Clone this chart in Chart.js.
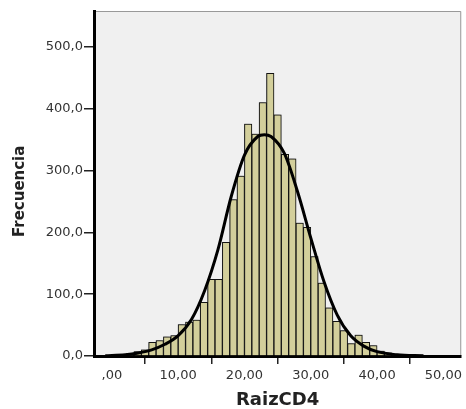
<!DOCTYPE html>
<html lang="es">
<head>
<meta charset="UTF-8">
<title>RaizCD4</title>
<script src="https://cdn.jsdelivr.net/npm/chart.js"></script>
<style>
  html, body { margin: 0; padding: 0; background: #fff; }
</style>
</head>
<body>
<canvas id="hist" width="466" height="409"></canvas>
<script>
// histograma de RaizCD4, intervalos de 10/9
const binWidth = 10 / 9;
const counts = [1, 2, 4, 7, 10, 22, 25, 31, 33, 51, 55, 58, 87, 124, 124, 184, 253, 291,
                375, 359, 410, 457, 390, 326, 319, 215, 208, 161, 118, 78, 56, 41, 20, 34,
                22, 17, 8, 5, 3, 2, 1, 1];
// curva normal, puntos
const curveX = [-1, 2, 4, 6, 8, 10, 12, 14, 16, 18, 20, 22, 23, 24,
                26, 28, 30, 32, 34, 36, 38, 40, 43, 47];
const curveY = [0.5, 2, 5, 10, 19, 33, 59, 106, 172, 258, 325, 355, 358, 355,
                328, 266, 191, 120, 66, 33, 16, 7, 2, 0.3];
const xTicks = [0, 10, 20, 30, 40, 50];
const yTicks = [0, 100, 200, 300, 400, 500];

const fmtX = v => v === 0 ? ',00' : v.toFixed(2).replace('.', ',');
const fmtY = v => v.toFixed(1).replace('.', ',');

// fondo gris del area y marco fino arriba/derecha
const plotFrame = {
    id: 'plotFrame',
    beforeDraw(chart) {
        const { ctx, chartArea: a } = chart;
        ctx.save();
        ctx.fillStyle = '#f0f0f0';
        ctx.fillRect(a.left, a.top, a.right - a.left, a.bottom - a.top);
        ctx.strokeStyle = '#999';
        ctx.lineWidth = 1;
        ctx.beginPath();
        ctx.moveTo(a.left, a.top + 0.5);
        ctx.lineTo(a.right - 0.5, a.top + 0.5);
        ctx.lineTo(a.right - 0.5, a.bottom);
        ctx.stroke();
        ctx.restore();
    }
};

// sombra difusa de las barras (estilo SPSS)
const barShadow = {
    id: 'barShadow',
    beforeDatasetDraw(chart, args) {
        if (args.meta.type !== 'bar') return;
        const ctx = chart.ctx;
        ctx.save();
        ctx.shadowColor = 'rgba(30,30,30,0.7)';
        ctx.shadowOffsetX = -1;
        ctx.shadowOffsetY = 0;
        ctx.shadowBlur = 3;
    },
    afterDatasetDraw(chart, args) {
        if (args.meta.type !== 'bar') return;
        chart.ctx.restore();
    }
};

const tickFont = { family: 'DejaVu Sans', size: 13 };

new Chart(document.getElementById('hist'), {
    type: 'bar',
    data: {
        datasets: [
            {
                type: 'line',
                data: curveX.map((x, i) => ({ x: x, y: curveY[i] })),
                borderColor: '#000',
                borderWidth: 3,
                pointRadius: 0,
                fill: false,
                cubicInterpolationMode: 'monotone',
                order: 0
            },
            {
                type: 'bar',
                data: counts.map((c, k) => ({ x: (k + 0.5) * binWidth, y: c })),
                backgroundColor: '#d3cf9b',
                borderColor: '#111',
                borderWidth: 1,
                barPercentage: 1,
                categoryPercentage: 1,
                order: 1
            }
        ]
    },
    options: {
        responsive: false,
        devicePixelRatio: 1,
        animation: false,
        events: [],
        layout: { padding: { top: 11, right: 1, left: 0, bottom: 0 } },
        plugins: { legend: { display: false }, tooltip: { enabled: false } },
        scales: {
            x: {
                type: 'linear',
                min: -2.7,
                max: 52.7,
                offset: false,
                z: 1,
                afterBuildTicks: s => { s.ticks = xTicks.map(v => ({ value: v })); },
                afterFit: s => { s.height = 53; },
                ticks: { callback: fmtX, font: tickFont, color: '#333', padding: 4, maxRotation: 0, autoSkip: false },
                grid: { drawOnChartArea: false, tickLength: 8, color: '#222', lineWidth: 1.5 },
                border: { color: '#000', width: 3 },
                title: {
                    display: true, text: 'RaizCD4', color: '#222',
                    font: { family: 'DejaVu Sans', size: 18, weight: 'bold', lineHeight: 1 },
                    padding: { top: 0, bottom: 0 }
                }
            },
            y: {
                min: 0,
                max: 558,
                z: 1,
                afterBuildTicks: s => { s.ticks = yTicks.map(v => ({ value: v })); },
                afterFit: s => { s.width = 94; },
                ticks: { callback: fmtY, font: tickFont, color: '#333', padding: 1 },
                grid: { drawOnChartArea: false, tickLength: 10, color: '#222', lineWidth: 1.5 },
                border: { color: '#000', width: 3 },
                title: {
                    // espacios finales para bajar un poco el titulo
                    display: true, text: 'Frecuencia   ', color: '#222',
                    font: { family: 'DejaVu Sans', size: 15, weight: 'bold', lineHeight: 1 },
                    padding: { top: 12.5, bottom: 0 }
                }
            }
        }
    },
    plugins: [plotFrame, barShadow]
});
</script>
</body>
</html>
